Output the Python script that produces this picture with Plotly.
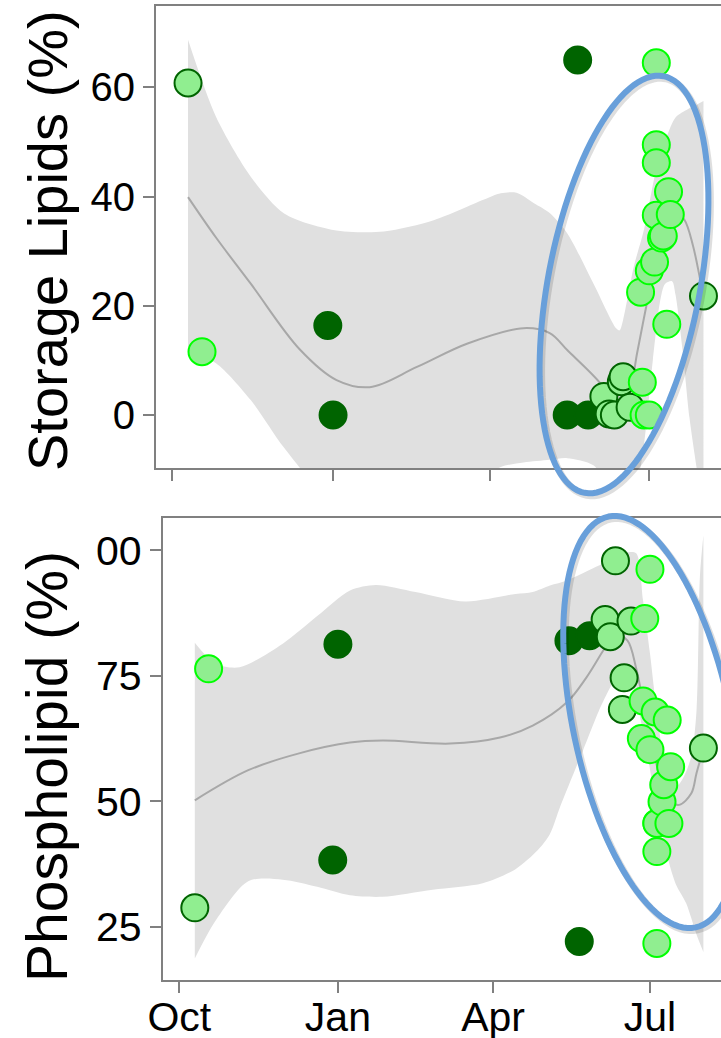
import numpy as np
import plotly.graph_objects as go

# ---------------- data ----------------
dates = ["2016-10-10", "2016-10-18", "2016-12-29", "2017-01-01", "2017-05-15",
         "2017-05-21", "2017-05-27", "2017-06-05", "2017-06-08", "2017-06-11",
         "2017-06-15", "2017-06-16", "2017-06-20", "2017-06-26", "2017-06-27",
         "2017-06-28", "2017-07-01", "2017-07-01", "2017-07-04", "2017-07-05",
         "2017-07-05", "2017-07-05", "2017-07-05", "2017-07-08", "2017-07-09",
         "2017-07-11", "2017-07-12", "2017-07-13", "2017-08-01"]
storage = [60.8, 11.6, 16.4, 0.0, 0.0, 65.0, 0.0, 3.4, 0.2, 0.0,
           6.1, 7.0, 1.4, 22.5, 6.0, 0.0, 0.0, 26.4, 28.0, 36.6,
           64.5, 49.5, 46.2, 32.4, 32.8, 16.6, 40.9, 36.7, 21.8]
phospho = [28.8, 76.4, 38.3, 81.3, 82.0, 22.1, 83.0, 86.2, 82.8, 97.9,
           68.3, 74.6, 85.9, 62.5, 70.0, 86.4, 96.2, 60.3, 67.8, 45.7,
           21.7, 40.0, 45.6, 49.9, 53.3, 66.2, 45.6, 56.9, 60.6]
group = ["B", "C", "A", "A", "A", "A", "A", "B", "B", "B",
         "B", "B", "B", "C", "C", "C", "C", "C", "C", "C",
         "C", "C", "C", "C", "C", "C", "C", "C", "B"]

# smooth fit
top_fit_dates = ["2016-10-10", "2016-10-26", "2016-11-15", "2016-12-13", "2017-01-03",
                 "2017-01-22", "2017-02-18", "2017-03-19", "2017-04-20", "2017-05-05",
                 "2017-05-15", "2017-06-03", "2017-06-08", "2017-06-14", "2017-06-20",
                 "2017-06-24", "2017-06-30", "2017-07-05", "2017-07-10", "2017-07-15",
                 "2017-07-21", "2017-07-26", "2017-07-30", "2017-08-01"]
top_fit = [39.9, 32.5, 24.0, 12.0, 6.4, 5.1, 8.8, 13.1, 15.9, 15.0,
           11.9, 5.8, 3.2, 2.5, 5.0, 11.3, 21.1, 28.5, 34.5, 37.5,
           35.8, 31.0, 25.0, 22.0]
top_hi_dates = ["2016-10-10", "2016-10-26", "2016-11-15", "2016-12-04", "2017-01-01",
                "2017-01-30", "2017-02-28", "2017-03-28", "2017-04-07", "2017-04-16",
                "2017-04-26", "2017-05-05", "2017-05-15", "2017-05-30", "2017-06-12",
                "2017-06-14", "2017-06-16", "2017-06-22", "2017-06-28", "2017-07-05",
                "2017-07-11", "2017-07-16", "2017-07-23", "2017-07-28", "2017-08-01"]
top_hi = [68.7, 54.6, 43.6, 36.9, 33.9, 33.6, 35.7, 39.4, 40.6, 40.7,
          38.8, 37.0, 33.3, 24.1, 15.9, 15.5, 17.4, 27.0, 34.0, 45.0,
          51.0, 54.5, 56.0, 56.8, 57.5]
top_lo_dates = ["2016-10-10", "2016-10-26", "2016-11-15", "2016-12-04", "2017-01-01",
                "2017-02-01", "2017-03-01", "2017-03-25", "2017-04-07", "2017-04-20",
                "2017-05-05", "2017-05-15", "2017-05-30", "2017-06-10", "2017-06-20",
                "2017-06-26", "2017-07-03", "2017-07-07", "2017-07-10", "2017-07-14",
                "2017-07-16", "2017-07-20", "2017-07-24", "2017-07-28", "2017-08-01"]
top_lo = [11.7, 9.5, 2.7, -6.0, -16.0, -19.0, -17.0, -12.0, -9.5, -8.7,
          -8.2, -7.9, -9.2, -14.0, -15.0, -9.5, 10.0, 20.5, 24.0, 24.5,
          22.0, 12.0, -0.5, -9.5, -18.0]

bot_fit_dates = ["2016-10-10", "2016-11-10", "2016-12-10", "2017-01-08", "2017-01-27",
                 "2017-03-07", "2017-04-05", "2017-04-24", "2017-05-14", "2017-05-25",
                 "2017-06-04", "2017-06-09", "2017-06-12", "2017-06-18", "2017-06-23",
                 "2017-06-28", "2017-07-03", "2017-07-08", "2017-07-13", "2017-07-18",
                 "2017-07-25", "2017-07-28", "2017-08-01"]
bot_fit = [50.2, 56.2, 59.6, 61.7, 62.1, 61.5, 62.7, 65.1, 69.8, 74.6,
           80.1, 82.6, 83.2, 82.0, 76.5, 68.0, 60.0, 53.5, 50.0, 49.3,
           51.6, 55.6, 60.5]
bot_hi_dates = ["2016-10-10", "2016-10-22", "2016-11-05", "2016-11-30", "2016-12-20",
                "2017-01-08", "2017-01-23", "2017-02-15", "2017-03-16", "2017-04-14",
                "2017-04-24", "2017-05-04", "2017-05-14", "2017-05-29", "2017-06-08",
                "2017-06-17", "2017-06-23", "2017-06-27", "2017-07-01", "2017-07-06",
                "2017-07-11", "2017-07-15", "2017-07-20", "2017-07-25", "2017-07-28",
                "2017-07-30", "2017-08-01"]
bot_hi = [81.6, 77.4, 76.7, 81.4, 86.9, 92.0, 93.1, 91.7, 89.8, 91.3,
          91.7, 93.0, 94.0, 96.4, 98.0, 99.5, 99.4, 90.0, 79.5, 65.0,
          55.0, 52.5, 54.5, 59.0, 68.0, 95.0, 103.0]
bot_lo_dates = ["2016-10-10", "2016-10-22", "2016-11-10", "2016-11-30", "2016-12-20",
                "2017-01-08", "2017-01-27", "2017-02-25", "2017-03-26", "2017-04-14",
                "2017-04-27", "2017-05-04", "2017-05-10", "2017-05-23", "2017-06-04",
                "2017-06-14", "2017-06-20", "2017-06-27", "2017-07-03", "2017-07-10",
                "2017-07-16", "2017-07-22", "2017-07-28", "2017-08-01"]
bot_lo = [18.7, 26.2, 34.1, 34.4, 33.0, 31.3, 31.0, 32.4, 33.7, 36.5,
          40.3, 43.5, 49.0, 60.0, 70.0, 75.5, 73.5, 64.0, 52.5, 40.5,
          33.5, 29.7, 23.5, 20.0]

x_tickvals = ["2016-10-01", "2017-01-01", "2017-04-01", "2017-07-01"]
x_ticktext = ["Oct", "Jan", "Apr", "Jul"]
top_yticks = [0, 20, 40, 60]
bot_yticks = [25, 50, 75, 100]
bot_yticktext = ["25", "50", "75", "00"]

# ---------------- styles ----------------
W, H = 721, 1038
FONT = "Liberation Sans, Arial, sans-serif"
fills = {"A": "#006400", "B": "#90EE90", "C": "#90EE90"}
edges = {"A": "#006400", "B": "#006400", "C": "#00FF00"}
BAND = "#E0E0E0"
FITC = "#A8A8A8"
AXC = "#808080"
ELL = "#689FDA"

def px2paper(x, y):
    return x / W, 1 - y / H

fig = go.Figure()

def add_panel(xa, ya, lo_d, lo, hi_d, hi, fit_d, fit, vals):
    fig.add_trace(go.Scatter(x=lo_d, y=lo, mode="lines", line=dict(width=0, color="rgba(0,0,0,0)", shape="spline", smoothing=0.8),
                             xaxis=xa, yaxis=ya, hoverinfo="skip"))
    fig.add_trace(go.Scatter(x=hi_d, y=hi, mode="lines", line=dict(width=0, color="rgba(0,0,0,0)", shape="spline", smoothing=0.8),
                             fill="tonexty", fillcolor=BAND, xaxis=xa, yaxis=ya, hoverinfo="skip"))
    fig.add_trace(go.Scatter(x=fit_d, y=fit, mode="lines", line=dict(width=2, color=FITC, shape="spline", smoothing=1.0),
                             xaxis=xa, yaxis=ya, hoverinfo="skip"))
    fig.add_trace(go.Scatter(x=dates, y=vals, mode="markers", xaxis=xa, yaxis=ya,
                             marker=dict(size=27, color=[fills[g] for g in group], opacity=1,
                                         line=dict(width=2, color=[edges[g] for g in group]))))

add_panel("x", "y", top_lo_dates, top_lo, top_hi_dates, top_hi, top_fit_dates, top_fit, storage)
add_panel("x2", "y2", bot_lo_dates, bot_lo, bot_hi_dates, bot_hi, bot_fit_dates, bot_fit, phospho)

axis_common = dict(showline=True, linecolor=AXC, linewidth=2, ticks="outside", ticklen=11,
                   tickwidth=2, tickcolor=AXC, showgrid=False, zeroline=False, automargin=False)

fig.update_layout(
    template="none",
    width=W, height=H, margin=dict(l=0, r=0, t=0, b=0, pad=0, autoexpand=False),
    paper_bgcolor="white", plot_bgcolor="white", showlegend=False,
    font=dict(family=FONT, color="black"),
    xaxis=dict(domain=[156 / W, 1], anchor="y", type="date",
               range=["2016-09-21 16:00", "2017-08-11 00:45"],
               tickvals=x_tickvals, ticktext=x_ticktext, showticklabels=False,
               mirror=True, **axis_common),
    yaxis=dict(domain=[1 - 468.3 / H, 1 - 6 / H], anchor="x", range=[-9.76, 74.9],
               tickvals=top_yticks, tickfont=dict(size=40, family=FONT, color="black"),
               **axis_common),
    xaxis2=dict(domain=[162.7 / W, 1], anchor="y2", type="date",
                range=["2016-09-21 09:00", "2017-08-11 05:00"],
                tickvals=x_tickvals, ticktext=x_ticktext, ticklabelstandoff=-11,
                tickfont=dict(size=41, family=FONT, color="black"),
                mirror=True, **axis_common),
    yaxis2=dict(domain=[1 - 980 / H, 1 - 517.8 / H], anchor="x2", range=[14.42, 106.47],
                tickvals=bot_yticks, ticktext=bot_yticktext,
                tickfont=dict(size=41, family=FONT, color="black"),
                **axis_common),
)

fig.add_annotation(text="Storage Lipids (%)", x=47 / W, y=1 - 241 / H, xref="paper", yref="paper",
                   showarrow=False, textangle=-90, xanchor="center", yanchor="middle",
                   font=dict(size=56, family=FONT, color="black"))
fig.add_annotation(text="Phospholipid (%)", x=47 / W, y=1 - 767 / H, xref="paper", yref="paper",
                   showarrow=False, textangle=-90, xanchor="center", yanchor="middle",
                   font=dict(size=57, family=FONT, color="black"))

# ---------------- highlight ellipses (annotation shapes) ----------------
def ellipse_path(cx, cy, a, b, theta_deg, lean_right, dx=0.0, dy=0.0, n=120):
    th = np.radians(theta_deg)
    t = np.linspace(0, 2 * np.pi, n, endpoint=False)
    s = 1 if lean_right else -1
    xs = cx + dx + s * a * np.cos(t) * np.sin(th) + b * np.sin(t) * np.cos(th)
    ys = cy + dy - a * np.cos(t) * np.cos(th) + s * b * np.sin(t) * np.sin(th)
    pts = [px2paper(x, y) for x, y in zip(xs, ys)]
    return "M " + " L ".join(f"{p[0]:.5f},{p[1]:.5f}" for p in pts) + " Z"

for (cx, cy, a, b, th, lr) in [(624, 284.5, 212, 76, 10.7, True), (652, 722, 210, 79, 12.0, False)]:
    fig.add_shape(type="path", xref="paper", yref="paper",
                  path=ellipse_path(cx, cy, a, b, th, lr, dx=2, dy=2.5),
                  line=dict(color="rgba(0,0,0,0.13)", width=7))
    fig.add_shape(type="path", xref="paper", yref="paper",
                  path=ellipse_path(cx, cy, a, b, th, lr),
                  line=dict(color=ELL, width=6))

fig.write_html("out.html", config={"displayModeBar": False},
               post_script="document.body.style.margin='0';document.body.style.padding='0';"
                           "document.documentElement.style.overflow='hidden';")
